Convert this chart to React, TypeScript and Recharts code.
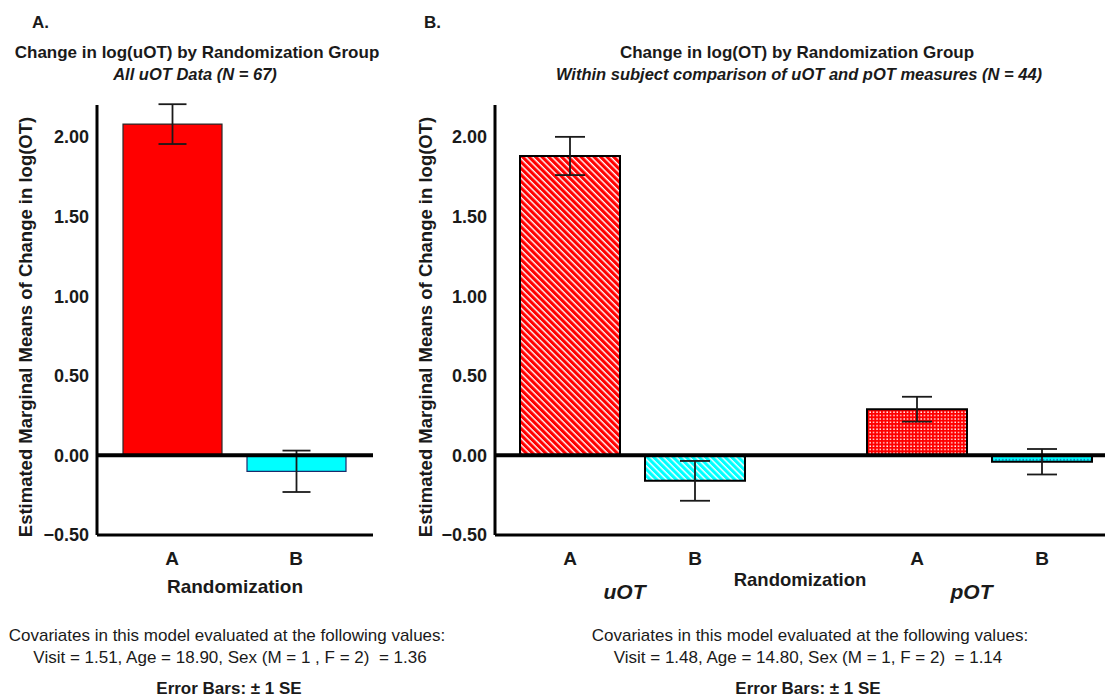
import React from 'react';
import { BarChart, Bar, XAxis, YAxis, ReferenceLine, ErrorBar, Cell } from 'recharts';

const FONT = '"Liberation Sans", Arial, Helvetica, sans-serif';
const INK = '#1a1a1a';

// A: all uOT data (N = 67)
const groupsA = ['A', 'B'];
const meansA = [2.08, -0.1];
const seA = [0.125, 0.13];

// B: within subject, uOT vs pOT (N = 44)
const measuresB = ['uOT', 'pOT'];
const meansGroupA = [1.88, 0.29];
const seGroupA = [0.12, 0.078];
const meansGroupB = [-0.16, -0.04];
const seGroupB = [0.125, 0.08];

const yTicks = [-0.5, 0, 0.5, 1, 1.5, 2];
const yDomain: [number, number] = [-0.5, 2.2];
const yTitle = 'Estimated Marginal Means of Change in log(OT)';

const dataA = groupsA.map((g, i) => ({ group: g, mean: meansA[i], se: seA[i] }));
const dataB = measuresB.map((m, i) => ({
  measure: m,
  a: meansGroupA[i],
  aSe: seGroupA[i],
  b: meansGroupB[i],
  bSe: seGroupB[i],
}));

const fillsA = ['#ff0000', '#00ffff'];
const strokesA = ['#2a2a2a', '#1c2a6b'];
const fillsGroupA = ['url(#redStripe)', 'url(#redCheck)'];
const fillsGroupB = ['url(#cyanStripe)', 'url(#cyanDot)'];

const BAR_B = 100;
const GAP_B = 25;

const fmt = (v: number) => (v < 0 ? '\u2212' : '') + Math.abs(v).toFixed(2);

const axisStyle = { stroke: '#000', strokeWidth: 3 };
const tickStyle = { fontSize: 18, fontWeight: 'bold', fill: INK };

function YTitle(props: any) {
  const { x, y, height } = props.viewBox;
  const cx = x + 25;
  const cy = y + height / 2 + 7;
  return (
    <text
      x={cx}
      y={cy}
      transform={`rotate(-90, ${cx}, ${cy})`}
      textAnchor="middle"
      dominantBaseline="central"
      fontSize={18.5}
      fontWeight="bold"
      fill={INK}
    >
      {yTitle}
    </text>
  );
}

function TickA(props: any) {
  const { x, y, payload } = props;
  return (
    <text x={x} y={y + 28} textAnchor="middle" fontSize={19} fontWeight="bold" fill={INK}>
      {payload.value}
    </text>
  );
}

// two bars per measure: A / B letters under each, measure name underneath
function TickB(props: any) {
  const { x, y, payload } = props;
  const half = (BAR_B + GAP_B) / 2;
  return (
    <g>
      <text x={x - half} y={y + 28} textAnchor="middle" fontSize={19} fontWeight="bold" fill={INK}>A</text>
      <text x={x + half} y={y + 28} textAnchor="middle" fontSize={19} fontWeight="bold" fill={INK}>B</text>
      <text x={x - 8} y={y + 62} textAnchor="middle" fontSize={21} fontWeight="bold" fontStyle="italic" fill={INK}>
        {payload.value}
      </text>
    </g>
  );
}

function Patterns() {
  return (
    <defs>
      <pattern id="redStripe" width="4.6" height="4.6" patternUnits="userSpaceOnUse" patternTransform="rotate(45)">
        <rect width="4.6" height="4.6" fill="#ff0000" />
        <rect width="4.6" height="1.4" fill="#ffffff" />
      </pattern>
      <pattern id="cyanStripe" width="4.6" height="4.6" patternUnits="userSpaceOnUse" patternTransform="rotate(45)">
        <rect width="4.6" height="4.6" fill="#00ffff" />
        <rect width="4.6" height="1.4" fill="#ffffff" />
      </pattern>
      <pattern id="redCheck" width="3.4" height="3.4" patternUnits="userSpaceOnUse">
        <rect width="3.4" height="3.4" fill="#ff0000" />
        <rect x="0.3" y="0.3" width="1.4" height="1.4" fill="#ffffff" />
      </pattern>
      <pattern id="cyanDot" width="3.4" height="3.4" patternUnits="userSpaceOnUse">
        <rect width="3.4" height="3.4" fill="#00ffff" />
        <rect x="0.3" y="0.3" width="1.4" height="1.4" fill="#2b3fa0" />
      </pattern>
    </defs>
  );
}

function PanelA() {
  return (
    <BarChart width={380} height={510} data={dataA} margin={{ top: 10, right: 7, left: 0, bottom: 0 }}>
      <XAxis
        dataKey="group"
        axisLine={axisStyle}
        tickLine={false}
        tickSize={0}
        tick={<TickA />}
        padding={{ left: 13, right: 15 }}
        height={70}
        label={{ value: 'Randomization', position: 'insideBottom', offset: 12, fontSize: 19, fontWeight: 'bold', fill: INK }}
      />
      <YAxis
        type="number"
        domain={yDomain}
        ticks={yTicks}
        interval={0}
        allowDataOverflow
        tickFormatter={fmt}
        axisLine={axisStyle}
        tickLine={false}
        tick={tickStyle}
        width={97}
        label={<YTitle />}
      />
      <Bar dataKey="mean" barSize={99} isAnimationActive={false}>
        {dataA.map((d, i) => (
          <Cell key={d.group} fill={fillsA[i]} stroke={strokesA[i]} strokeWidth={1.2} />
        ))}
        <ErrorBar dataKey="se" width={14} stroke={INK} strokeWidth={1.8} isAnimationActive={false} />
      </Bar>
      <ReferenceLine y={0} stroke="#000" strokeWidth={4} />
    </BarChart>
  );
}

function PanelB() {
  return (
    <BarChart
      width={705}
      height={510}
      data={dataB}
      barGap={GAP_B}
      margin={{ top: 10, right: 0, left: 0, bottom: 0 }}
    >
      <Patterns />
      <XAxis
        dataKey="measure"
        axisLine={axisStyle}
        tickLine={false}
        tickSize={0}
        tick={<TickB />}
        padding={{ left: -36, right: -48 }}
        height={70}
        label={{ value: 'Randomization', position: 'insideBottom', offset: 19, fontSize: 18.5, fontWeight: 'bold', fill: INK }}
      />
      <YAxis
        type="number"
        domain={yDomain}
        ticks={yTicks}
        interval={0}
        allowDataOverflow
        tickFormatter={fmt}
        axisLine={axisStyle}
        tickLine={false}
        tick={tickStyle}
        width={95}
        label={<YTitle />}
      />
      <Bar dataKey="a" barSize={BAR_B} stroke="#000" strokeWidth={2} isAnimationActive={false}>
        {dataB.map((d, i) => (
          <Cell key={d.measure} fill={fillsGroupA[i]} />
        ))}
        <ErrorBar dataKey="aSe" width={15} stroke={INK} strokeWidth={1.8} isAnimationActive={false} />
      </Bar>
      <Bar dataKey="b" barSize={BAR_B} stroke="#000" strokeWidth={2} isAnimationActive={false}>
        {dataB.map((d, i) => (
          <Cell key={d.measure} fill={fillsGroupB[i]} />
        ))}
        <ErrorBar dataKey="bSe" width={15} stroke={INK} strokeWidth={1.8} isAnimationActive={false} />
      </Bar>
      <ReferenceLine y={0} stroke="#000" strokeWidth={4} />
    </BarChart>
  );
}

export default function App() {
  return (
    <div
      style={{
        position: 'absolute',
        left: 0,
        top: 0,
        width: 1105,
        height: 697,
        background: '#fff',
        fontFamily: FONT,
        overflow: 'hidden',
      }}
    >
      <div style={{ position: 'absolute', left: 0, top: 95 }}>
        <PanelA />
      </div>
      <div style={{ position: 'absolute', left: 400, top: 95 }}>
        <PanelB />
      </div>
      <svg
        width={1105}
        height={697}
        style={{ position: 'absolute', left: 0, top: 0, pointerEvents: 'none' }}
        fill={INK}
      >
        <text x={32} y={28} fontSize={17} fontWeight="bold">A.</text>
        <text x={424} y={28} fontSize={17} fontWeight="bold">B.</text>

        <text x={197} y={58} fontSize={17} fontWeight="bold" textAnchor="middle">
          Change in log(uOT) by Randomization Group
        </text>
        <text x={195} y={80} fontSize={16.5} fontWeight="bold" fontStyle="italic" textAnchor="middle">
          All uOT Data (N = 67)
        </text>
        <text x={797} y={58} fontSize={17} fontWeight="bold" textAnchor="middle">
          Change in log(OT) by Randomization Group
        </text>
        <text x={799} y={80} fontSize={16.5} fontWeight="bold" fontStyle="italic" textAnchor="middle">
          Within subject comparison of uOT and pOT measures (N = 44)
        </text>

        <text x={227} y={641} fontSize={17} textAnchor="middle">
          Covariates in this model evaluated at the following values:
        </text>
        <text x={230} y={663} fontSize={17} textAnchor="middle" style={{ whiteSpace: 'pre' }}>
          {'Visit = 1.51, Age = 18.90, Sex (M = 1 , F = 2)  = 1.36'}
        </text>
        <text x={229} y={694} fontSize={17} fontWeight="bold" textAnchor="middle">
          Error Bars: ± 1 SE
        </text>

        <text x={810} y={641} fontSize={17} textAnchor="middle">
          Covariates in this model evaluated at the following values:
        </text>
        <text x={808} y={663} fontSize={17} textAnchor="middle" style={{ whiteSpace: 'pre' }}>
          {'Visit = 1.48, Age = 14.80, Sex (M = 1, F = 2)  = 1.14'}
        </text>
        <text x={808} y={694} fontSize={17} fontWeight="bold" textAnchor="middle">
          Error Bars: ± 1 SE
        </text>
      </svg>
    </div>
  );
}
